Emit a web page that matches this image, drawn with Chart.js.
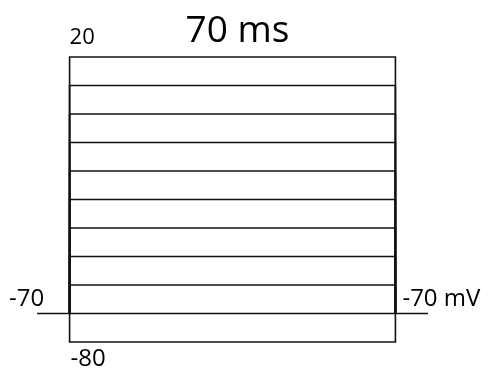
<!DOCTYPE html>
<html>
<head>
<meta charset="utf-8">
<script src="https://cdn.jsdelivr.net/npm/chart.js@4/dist/chart.umd.min.js"></script>
<style>
  html, body { margin: 0; padding: 0; background: #fff; }
  #wrap { width: 488px; height: 372px; position: relative; }
</style>
</head>
<body>
<div id="wrap"><canvas id="chart"></canvas></div>
<script>
// step protocol: holding at -70 mV, 70 ms steps from -80 to +20 mV
const stepLevels = [20, 10, 0, -10, -20, -30, -40, -50, -60, -70, -80];
const holding = -70;
const timeEdges = [-7, 0, 70, 77];   // ms: pre-start, step on, step off, end
const titleText = '70 ms';
const topLabel = '20';
const bottomLabel = '-80';
const holdLabelLeft = '-70';
const holdLabelRight = '-70 mV';

// only the first sweep carries the holding segments outside the step,
// otherwise 11 overlapping copies make that line look heavy
const datasets = stepLevels.map((v, i) => {
    const pts = [
        { x: timeEdges[1], y: holding },
        { x: timeEdges[1], y: v },
        { x: timeEdges[2], y: v },
        { x: timeEdges[2], y: holding }
    ];
    if (i === 0) {
        pts.unshift({ x: timeEdges[0], y: holding });
        pts.push({ x: timeEdges[3], y: holding });
    }
    return {
        data: pts,
        borderColor: '#111',
        borderWidth: 1.6,
        pointRadius: 0,
        tension: 0,
        clip: false
    };
});

const labelsPlugin = {
    id: 'protocolLabels',
    afterDatasetsDraw(c) {
        const ctx = c.ctx;
        const xs = c.scales.x, ys = c.scales.y;
        ctx.save();
        ctx.fillStyle = '#000';
        ctx.textBaseline = 'alphabetic';

        ctx.font = '37px "Open Sans"';
        ctx.textAlign = 'center';
        ctx.fillText(titleText, xs.getPixelForValue(35) + 5, ys.getPixelForValue(20) - 15);

        ctx.font = '22px "Open Sans"';
        ctx.textAlign = 'left';
        ctx.fillText(topLabel, xs.getPixelForValue(0), ys.getPixelForValue(20) - 13);

        ctx.font = '24px "Open Sans"';
        ctx.fillText(bottomLabel, xs.getPixelForValue(0) + 1, ys.getPixelForValue(-80) + 24);
        ctx.fillText(holdLabelLeft, 9, ys.getPixelForValue(holding) - 8);
        ctx.fillText(holdLabelRight, xs.getPixelForValue(70) + 7, ys.getPixelForValue(holding) - 8);
        ctx.restore();
    }
};

new Chart(document.querySelector('#chart'), {
    type: 'line',
    data: { datasets },
    options: {
        responsive: true,
        maintainAspectRatio: false,
        animation: false,
        layout: {
            padding: { left: 37, right: 60, top: 57, bottom: 30 }
        },
        plugins: {
            legend: { display: false },
            tooltip: { enabled: false }
        },
        scales: {
            x: { type: 'linear', min: -7, max: 77, display: false },
            y: { min: -80, max: 20, display: false }
        }
    },
    plugins: [labelsPlugin]
});
</script>
</body>
</html>
